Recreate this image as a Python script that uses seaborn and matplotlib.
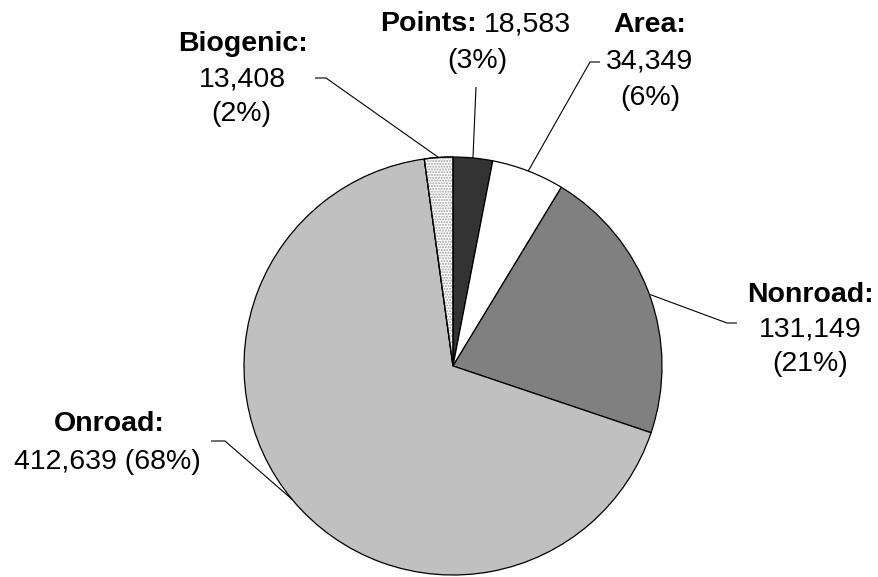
import numpy as np
import matplotlib
matplotlib.use("Agg")
import matplotlib.pyplot as plt
import seaborn as sns
from matplotlib.patches import Wedge

# emissions by source, in pie order (clockwise from 12 o'clock)
fuentes = ["Points", "Area", "Nonroad", "Onroad", "Biogenic"]
valores = [18583, 34349, 131149, 412639, 13408]
porcentajes = ["(3%)", "(6%)", "(21%)", "(68%)", "(2%)"]
colores = ["#333333", "#ffffff", "#808080", "#c0c0c0", "#ffffff"]

sns.set_style("white")
plt.rcParams['font.family'] = ['Liberation Sans', 'DejaVu Sans']
plt.rcParams['text.color'] = 'black'

W, H = 879, 577
CX, CY, R = 453, 366, 209


def px(x, y):
    # pixel position -> data coords (pie centre at 0,0 radius 1)
    return (x - CX) / R, (CY - y) / R


fig = plt.figure(figsize=(W / 100, H / 100), dpi=100)
ax = fig.add_axes([0, 0, 1, 1])

wedges, _ = ax.pie(valores, colors=colores, startangle=90, counterclock=False,
                   wedgeprops=dict(edgecolor="black", linewidth=0.9))

# pie() resets limits, so set them afterwards
ax.set_aspect("auto")
ax.set_xlim(px(0, 0)[0], px(W, 0)[0])
ax.set_ylim(px(0, H)[1], px(0, 0)[1])
ax.axis("off")

# dotted fill for biogenic
wb = wedges[4]
ax.add_patch(Wedge((0, 0), 1, wb.theta1, wb.theta2, facecolor="none",
                   edgecolor="#a0a0a0", linewidth=0, hatch="......"))
ax.add_patch(Wedge((0, 0), 1, wb.theta1, wb.theta2, facecolor="none",
                   edgecolor="black", linewidth=0.9))


def borde(w):
    ang = np.deg2rad((w.theta1 + w.theta2) / 2)
    return np.cos(ang), np.sin(ang)


fs = 20.5
txt = dict(fontsize=fs, ha="center", va="baseline", color="black")
fmt = lambda v: f"{v:,}"

# Points
x, y = px(477, 31)
ax.text(x, y, "Points:", fontsize=fs, fontweight="bold", ha="right", va="baseline", color="black")
ax.text(px(484, 0)[0], y, fmt(valores[0]), fontsize=fs, ha="left", va="baseline", color="black")
ax.text(*px(477, 68), porcentajes[0], **txt)

# Area
ax.text(*px(650, 32), "Area:", fontweight="bold", **txt)
ax.text(*px(650, 68), fmt(valores[1]), **txt)
ax.text(*px(650, 105), porcentajes[1], **txt)

# Nonroad
ax.text(*px(810, 302), "Nonroad:", fontweight="bold", **txt)
ax.text(*px(810, 336), fmt(valores[2]), **txt)
ax.text(*px(810, 371), porcentajes[2], **txt)

# Onroad
ax.text(*px(109, 431), "Onroad:", fontweight="bold", **txt)
ax.text(*px(107, 469), f"{fmt(valores[3])} {porcentajes[3]}", **txt)

# Biogenic
ax.text(*px(243, 51), "Biogenic:", fontweight="bold", **txt)
ax.text(*px(242, 86), fmt(valores[4]), **txt)
ax.text(*px(241, 121), porcentajes[4], **txt)

# leader lines
lineas = {
    0: [(476, 87)],
    1: [(600, 62), (590, 62)],
    2: [(737, 323), (727, 323)],
    3: [(211, 441), (225, 441)],
    4: [(315, 78), (326, 78)],
}
for i, pts in lineas.items():
    xs = [px(a, b)[0] for a, b in pts]
    ys = [px(a, b)[1] for a, b in pts]
    ex, ey = borde(wedges[i])
    xs.append(ex)
    ys.append(ey)
    ax.plot(xs, ys, color="black", linewidth=0.8, solid_capstyle="butt")

fig.savefig("out.png", dpi=100)
